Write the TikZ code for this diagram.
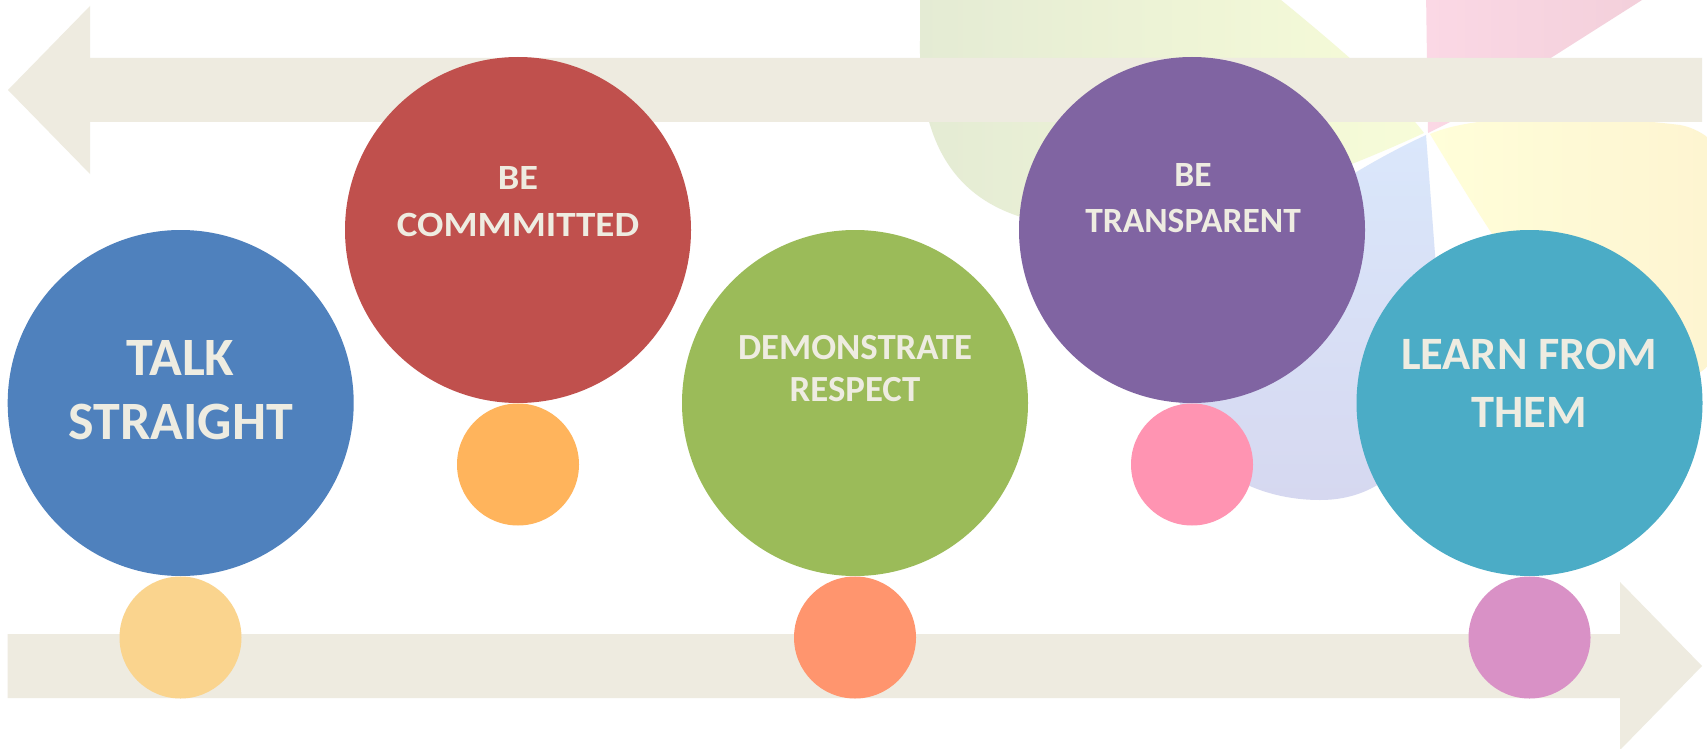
\documentclass[tikz,border=0pt]{standalone}
\usepackage{fontspec}
\setmainfont{Carlito}
\definecolor{arrowc}{HTML}{EEEBE0}
\definecolor{txt}{HTML}{EEECE1}
\definecolor{cblue}{HTML}{4F81BD}
\definecolor{cred}{HTML}{C0504D}
\definecolor{cgreen}{HTML}{9BBB59}
\definecolor{cpurple}{HTML}{8064A2}
\definecolor{cteal}{HTML}{4BACC6}
\definecolor{syellow}{HTML}{FAD48E}
\definecolor{sorange}{HTML}{FFB45C}
\definecolor{scoral}{HTML}{FF956E}
\definecolor{spink}{HTML}{FF94B2}
\definecolor{sorchid}{HTML}{D991C6}
\definecolor{pgreenL}{HTML}{E4EBD4}
\definecolor{pgreenR}{HTML}{F7FCD8}
\definecolor{ppinkL}{HTML}{FBD8E5}
\definecolor{ppinkR}{HTML}{EFCCD6}
\definecolor{pyelL}{HTML}{FFFED9}
\definecolor{pyelR}{HTML}{FDF2CF}
\definecolor{pblueT}{HTML}{DAE7FB}
\definecolor{pblueB}{HTML}{D6D8F0}
\begin{document}
\begin{tikzpicture}[x=1pt,y=-1pt,
  big/.style={circle, inner sep=0pt, minimum size=346pt},
  small/.style={circle, inner sep=0pt, minimum size=122pt},
  lbl/.style={text=txt, align=center, inner sep=0pt}]
\useasboundingbox (0,0) rectangle (1707,749);
\fill[white] (0,0) rectangle (1707,749);
% background pinwheel petals
\begin{scope}
\clip (0,0) rectangle (1707,749);
\shade[left color=pgreenL, right color=pgreenR]
  (1424,133) .. controls (1395,95) and (1330,40) .. (1281,0) -- (1220,-50) -- (920,-50)
  -- (920,40) .. controls (918,150) and (960,205) .. (1040,222)
  .. controls (1150,240) and (1300,190) .. (1424,133) -- cycle;
\shade[left color=ppinkL, right color=ppinkR]
  (1428,133) -- (1425,-80) -- (1740,-80) -- (1642,0) -- (1450,122) -- cycle;
\shade[left color=pyelL, right color=pyelR]
  (1430,134) .. controls (1480,112) and (1600,115) .. (1680,125)
  .. controls (1760,140) and (1780,300) .. (1707,367)
  .. controls (1620,440) and (1530,300) .. (1430,134) -- cycle;
\shade[top color=pblueT, bottom color=pblueB]
  (1426,135) .. controls (1350,170) and (1200,260) .. (1180,360)
  .. controls (1165,450) and (1240,500) .. (1320,500)
  .. controls (1400,500) and (1445,430) .. (1440,320) -- cycle;
\end{scope}
% arrows
\fill[arrowc] (1702,58) -- (90,58) -- (90,6) -- (8,90) -- (90,174) -- (90,122) -- (1702,122) -- cycle;
\fill[arrowc] (7.7,634) -- (1620,634) -- (1620,582) -- (1702,666) -- (1620,750) -- (1620,698) -- (7.7,698) -- cycle;
% big circles
\node[big, fill=cblue]   (c1) at (180.7,403) {};
\node[big, fill=cred]    (c2) at (518,230) {};
\node[big, fill=cgreen]  (c3) at (855,403) {};
\node[big, fill=cpurple] (c4) at (1192,230) {};
\node[big, fill=cteal]   (c5) at (1529.5,403) {};
% small circles
\node[small, fill=syellow] (s1) at (180.5,637.5) {};
\node[small, fill=sorange] (s2) at (518,464.5) {};
\node[small, fill=scoral]  (s3) at (855,637.5) {};
\node[small, fill=spink]   (s4) at (1192,464.5) {};
\node[small, fill=sorchid] (s5) at (1529.5,637.5) {};
% labels
\node[lbl, font=\bfseries\fontsize{54}{64}\selectfont] (t1) at (180.7,389.9) {TALK\\STRAIGHT};
\node[lbl, font=\bfseries\fontsize{35.5}{47}\selectfont] (t2) at (518,201.2) {\scalebox{1.08}[1]{BE}\\\scalebox{1.1}[1]{COMMMITTED}};
\node[lbl, font=\bfseries\fontsize{36.8}{42.4}\selectfont] (t3) at (855,368.8) {DEMONSTRATE\\RESPECT};
\node[lbl, font=\bfseries\fontsize{35.5}{45.6}\selectfont] (t4) at (1193,198.2) {BE\\TRANSPARENT};
\node[lbl, font=\bfseries\fontsize{46.4}{57.4}\selectfont] (t5) at (1529,383.3) {LEARN FROM\\THEM};
\end{tikzpicture}
\end{document}
